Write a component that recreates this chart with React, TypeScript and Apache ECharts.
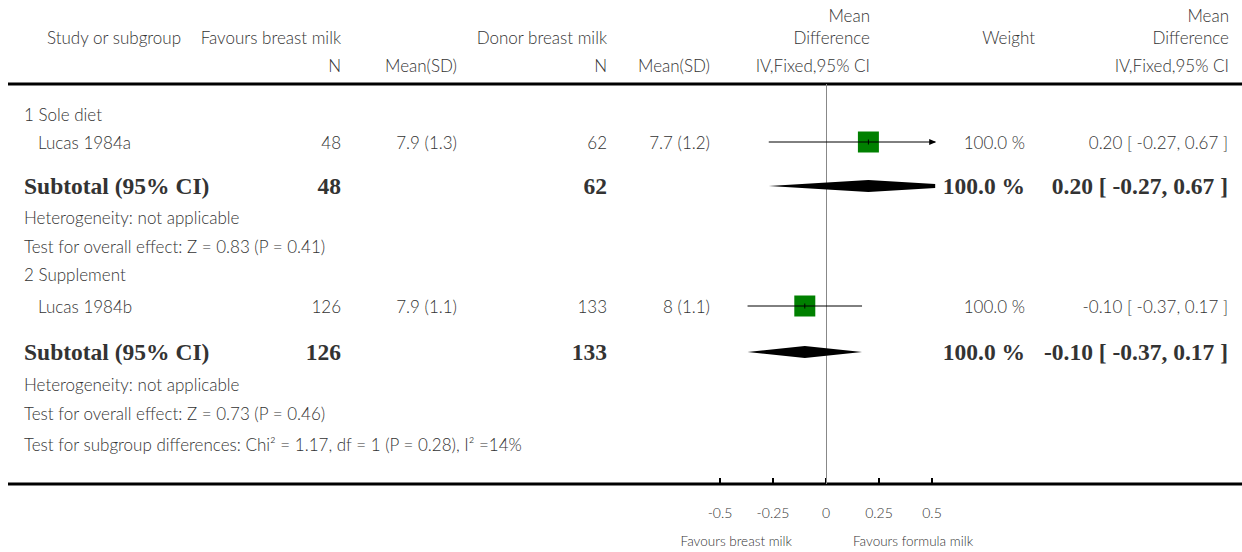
import React, { useEffect, useRef } from "react";
import * as echarts from "echarts";

// ---------- data ----------
const groupNames = ["1 Sole diet", "2 Supplement"];
const studyNames = ["Lucas 1984a", "Lucas 1984b"];
const nBreast = [48, 126];
const meanBreast = [7.9, 7.9];
const sdBreast = [1.3, 1.1];
const nDonor = [62, 133];
const meanDonor = [7.7, 8];
const sdDonor = [1.2, 1.1];
const studyMd = [0.2, -0.1];
const studyLow = [-0.27, -0.37];
const studyHigh = [0.67, 0.17];
const studyWeight = [100.0, 100.0];

const subN1 = [48, 126];
const subN2 = [62, 133];
const subMd = [0.2, -0.1];
const subLow = [-0.27, -0.37];
const subHigh = [0.67, 0.17];
const subWeight = [100.0, 100.0];
const heterogeneity = ["Heterogeneity: not applicable", "Heterogeneity: not applicable"];
const overallEffect = ["Test for overall effect: Z = 0.83 (P = 0.41)", "Test for overall effect: Z = 0.73 (P = 0.46)"];
const subgroupTest = "Test for subgroup differences: Chi\u00B2 = 1.17, df = 1 (P = 0.28), I\u00B2 =14%";
const axisTicks = [-0.5, -0.25, 0, 0.25, 0.5];
const leftFavour = "Favours breast milk";
const rightFavour = "Favours formula milk";

// ---------- layout ----------
const W = 1242;
const H = 552;
const X_MIN = -0.515;
const X_MAX = 0.515;
const PLOT_TOP = 84;
const PLOT_BOTTOM = 484;
const ZERO_X = 826;
const PX_PER_UNIT = 212;
const groupRowY = [114, 274];
const studyRowY = [142, 306];
const subRowY = [186, 352];
const hetRowY = [217, 384];
const effRowY = [246, 413];
const subgroupRowY = 444;

const COL = {
  studyHdr: 47,
  groupLeft: 24,
  studyLeft: 38,
  n1: 341,
  m1: 457,
  n2: 607,
  m2: 710,
  mdHdr: 870,
  weightHdr: 1035,
  weight: 1025,
  mdRight: 1228,
};

const SANS = "Lato, 'Open Sans', sans-serif";
const SERIF = "'Liberation Serif', 'DejaVu Serif', serif";
const TXT = "#333";
const REG = `300 17px ${SANS}`;
const SMALL = `300 13.5px ${SANS}`;
const BOLD = `bold 23.5px ${SERIF}`;

const fmt2 = (v: number) => v.toFixed(2);
const mdText = (m: number, l: number, h: number) => `${fmt2(m)} [ ${fmt2(l)}, ${fmt2(h)} ]`;
const wText = (w: number) => `${w.toFixed(1)} %`;

function txt(text: string, x: number, y: number, align: string, font = REG) {
  return {
    type: "text",
    x,
    y,
    silent: true,
    style: {
      text,
      font,
      fill: TXT,
      textAlign: align,
      align,
      textVerticalAlign: "middle",
      verticalAlign: "middle",
    },
  };
}

function clipPoly(pts: number[][], xmin: number, xmax: number) {
  const clipEdge = (poly: number[][], inside: (p: number[]) => boolean, xEdge: number) => {
    const out: number[][] = [];
    for (let i = 0; i < poly.length; i++) {
      const cur = poly[i];
      const prev = poly[(i + poly.length - 1) % poly.length];
      const ci = inside(cur);
      const pi = inside(prev);
      if (ci) {
        if (!pi) {
          const t = (xEdge - prev[0]) / (cur[0] - prev[0]);
          out.push([xEdge, prev[1] + t * (cur[1] - prev[1])]);
        }
        out.push(cur);
      } else if (pi) {
        const t = (xEdge - prev[0]) / (cur[0] - prev[0]);
        out.push([xEdge, prev[1] + t * (cur[1] - prev[1])]);
      }
    }
    return out;
  };
  let p = clipEdge(pts, (q) => q[0] >= xmin, xmin);
  p = clipEdge(p, (q) => q[0] <= xmax, xmax);
  return p;
}

export default function App() {
  const ref = useRef<HTMLDivElement>(null);

  useEffect(() => {
    if (!ref.current) return;
    const chart = echarts.init(ref.current, null, { renderer: "svg" });

    const elements: any[] = [];
    // header
    elements.push(txt("Study or subgroup", COL.studyHdr, 37, "left"));
    elements.push(txt("Favours breast milk", COL.n1, 37, "right"));
    elements.push(txt("Donor breast milk", COL.n2, 37, "right"));
    elements.push(txt("Mean", COL.mdHdr, 15, "right"));
    elements.push(txt("Difference", COL.mdHdr, 37, "right"));
    elements.push(txt("Weight", COL.weightHdr, 37, "right"));
    elements.push(txt("Mean", COL.mdRight + 1, 15, "right"));
    elements.push(txt("Difference", COL.mdRight + 1, 37, "right"));
    elements.push(txt("N", COL.n1, 65, "right"));
    elements.push(txt("Mean(SD)", COL.m1, 65, "right"));
    elements.push(txt("N", COL.n2, 65, "right"));
    elements.push(txt("Mean(SD)", COL.m2, 65, "right"));
    elements.push(txt("IV,Fixed,95% CI", COL.mdHdr, 65, "right"));
    elements.push(txt("IV,Fixed,95% CI", COL.mdRight + 1, 65, "right"));

    // rules
    elements.push({
      type: "line",
      silent: true,
      shape: { x1: 8, y1: PLOT_TOP, x2: W, y2: PLOT_TOP },
      style: { stroke: "#000", lineWidth: 3 },
    });
    elements.push({
      type: "line",
      silent: true,
      shape: { x1: 8, y1: PLOT_BOTTOM, x2: W, y2: PLOT_BOTTOM },
      style: { stroke: "#000", lineWidth: 3 },
    });

    groupNames.forEach((g, i) => {
      elements.push(txt(g, COL.groupLeft, groupRowY[i], "left"));
      const y = studyRowY[i];
      elements.push(txt(studyNames[i], COL.studyLeft, y, "left"));
      elements.push(txt(String(nBreast[i]), COL.n1, y, "right"));
      elements.push(txt(`${meanBreast[i]} (${sdBreast[i]})`, COL.m1, y, "right"));
      elements.push(txt(String(nDonor[i]), COL.n2, y, "right"));
      elements.push(txt(`${meanDonor[i]} (${sdDonor[i]})`, COL.m2, y, "right"));
      elements.push(txt(wText(studyWeight[i]), COL.weight, y, "right"));
      elements.push(txt(mdText(studyMd[i], studyLow[i], studyHigh[i]), COL.mdRight, y, "right"));

      const sy = subRowY[i];
      elements.push(txt("Subtotal (95% CI)", COL.groupLeft, sy, "left", BOLD));
      elements.push(txt(String(subN1[i]), COL.n1, sy, "right", BOLD));
      elements.push(txt(String(subN2[i]), COL.n2, sy, "right", BOLD));
      elements.push(txt(wText(subWeight[i]), COL.weight, sy, "right", BOLD));
      elements.push(txt(mdText(subMd[i], subLow[i], subHigh[i]), COL.mdRight, sy, "right", BOLD));

      elements.push(txt(heterogeneity[i], COL.groupLeft, hetRowY[i], "left"));
      elements.push(txt(overallEffect[i], COL.groupLeft, effRowY[i], "left"));
    });
    elements.push(txt(subgroupTest, COL.groupLeft, subgroupRowY, "left"));
    elements.push(txt(leftFavour, 792, 541, "right", SMALL));
    elements.push(txt(rightFavour, 853, 541, "left", SMALL));

    const gridLeft = ZERO_X + X_MIN * PX_PER_UNIT;
    const gridRight = W - (ZERO_X + X_MAX * PX_PER_UNIT);

    const studyData = studyNames.map((_, i) => [studyMd[i], studyLow[i], studyHigh[i], studyWeight[i], studyRowY[i]]);
    const subData = subMd.map((m, i) => [m, subLow[i], subHigh[i], subWeight[i], subRowY[i]]);

    const option: any = {
      animation: false,
      backgroundColor: "#fff",
      grid: { left: gridLeft, right: gridRight, top: PLOT_TOP, bottom: H - PLOT_BOTTOM, containLabel: false },
      xAxis: {
        type: "value",
        min: X_MIN,
        max: X_MAX,
        position: "bottom",
        axisLine: { show: false },
        splitLine: { show: false },
        axisTick: {
          show: true,
          inside: true,
          length: 6,
          customValues: axisTicks,
          lineStyle: { color: "#000", width: 2 },
        },
        axisLabel: {
          show: true,
          customValues: axisTicks,
          margin: 21,
          color: TXT,
          fontFamily: SANS,
          fontWeight: 300,
          fontSize: 14,
          formatter: (v: number) => String(v),
        },
      },
      yAxis: {
        type: "value",
        min: PLOT_TOP,
        max: PLOT_BOTTOM,
        inverse: true,
        show: false,
      },
      series: [
        {
          type: "custom",
          name: "zero",
          data: [[0]],
          silent: true,
          z: 1,
          renderItem: (params: any, api: any) => {
            const p1 = api.coord([api.value(0), PLOT_TOP]);
            const p2 = api.coord([api.value(0), PLOT_BOTTOM]);
            return {
              type: "line",
              shape: { x1: Math.round(p1[0]) + 0.5, y1: p1[1], x2: Math.round(p2[0]) + 0.5, y2: p2[1] },
              style: { stroke: "#888", lineWidth: 1 },
            };
          },
        },
        {
          type: "custom",
          name: "studies",
          data: studyData,
          silent: true,
          z: 3,
          renderItem: (params: any, api: any) => {
            const m = api.value(0);
            const lo = api.value(1);
            const hi = api.value(2);
            const w = api.value(3);
            const yv = api.value(4);
            const [xm, y] = api.coord([m, yv]);
            const xl = api.coord([Math.max(lo, X_MIN), yv])[0];
            const xr = api.coord([Math.min(hi, X_MAX), yv])[0];
            const size = 21 * Math.sqrt(w / 100);
            const children: any[] = [
              {
                type: "rect",
                shape: { x: xm - size / 2, y: y - size / 2, width: size, height: size },
                style: { fill: "#008000" },
              },
              {
                type: "line",
                shape: { x1: xl, y1: y, x2: xr, y2: y },
                style: { stroke: "#000", lineWidth: 1 },
              },
              {
                type: "line",
                shape: { x1: xm, y1: y - 2.5, x2: xm, y2: y + 2.5 },
                style: { stroke: "#000", lineWidth: 1 },
              },
            ];
            if (hi > X_MAX) {
              children.push({
                type: "polygon",
                shape: { points: [[xr + 1, y], [xr - 6, y - 3], [xr - 6, y + 3]] },
                style: { fill: "#000" },
              });
            }
            if (lo < X_MIN) {
              children.push({
                type: "polygon",
                shape: { points: [[xl - 1, y], [xl + 6, y - 3], [xl + 6, y + 3]] },
                style: { fill: "#000" },
              });
            }
            return { type: "group", children };
          },
        },
        {
          type: "custom",
          name: "subtotals",
          data: subData,
          silent: true,
          z: 3,
          renderItem: (params: any, api: any) => {
            const m = api.value(0);
            const lo = api.value(1);
            const hi = api.value(2);
            const yv = api.value(4);
            const [xm, y] = api.coord([m, yv]);
            const xl = api.coord([lo, yv])[0];
            const xr = api.coord([hi, yv])[0];
            const xmin = api.coord([X_MIN, yv])[0];
            const xmax = api.coord([X_MAX, yv])[0];
            const h = 6;
            const pts = clipPoly(
              [
                [xl, y],
                [xm, y - h],
                [xr, y],
                [xm, y + h],
              ],
              xmin,
              xmax
            );
            return {
              type: "polygon",
              shape: { points: pts },
              style: { fill: "#000" },
            };
          },
        },
      ],
      graphic: { elements },
    };

    chart.setOption(option);
    return () => chart.dispose();
  }, []);

  return (
    <div
      ref={ref}
      style={{ position: "fixed", left: 0, top: 0, width: W, height: H, background: "#fff" }}
    />
  );
}
